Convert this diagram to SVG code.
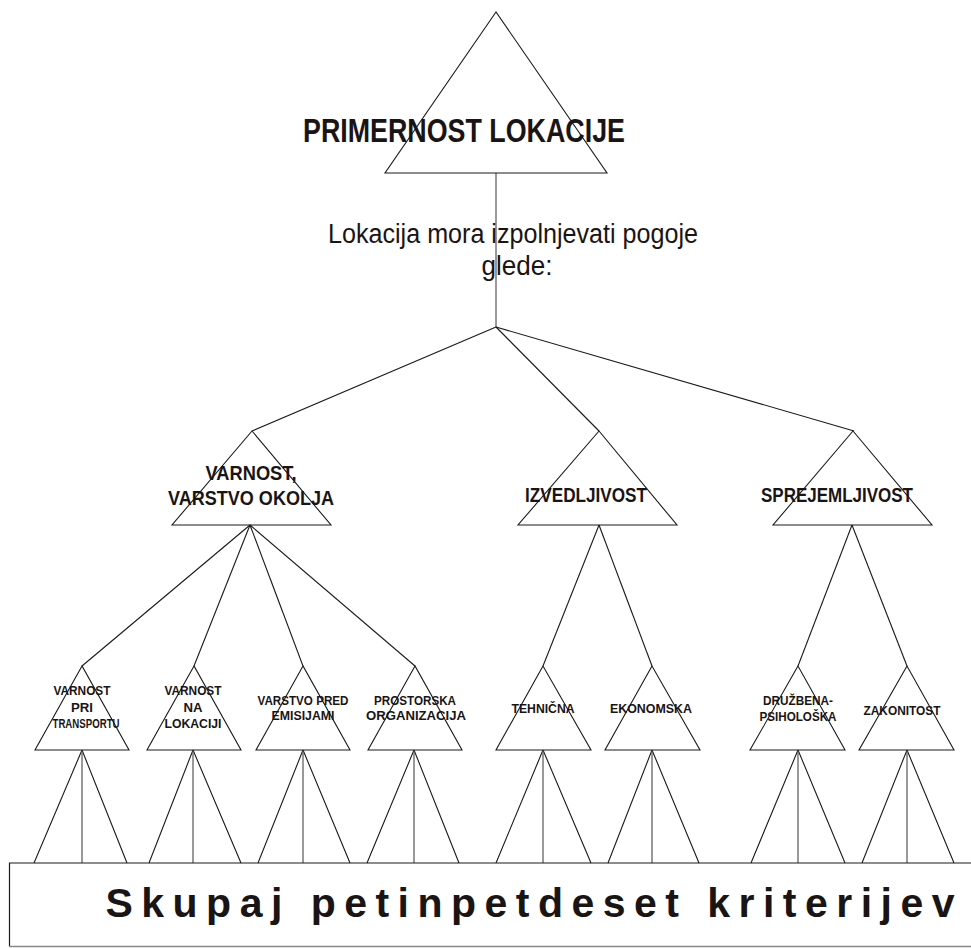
<svg xmlns="http://www.w3.org/2000/svg" width="971" height="948" viewBox="0 0 971 948">
<style>
.tri{fill:none;stroke:#1a1a1a;stroke-width:1.1}
.ln{stroke:#1a1a1a;stroke-width:1.1;fill:none}
.vl{stroke:#555;stroke-width:1.2;fill:none}
text{font-family:"Liberation Sans",Arial,sans-serif;fill:#1a1414;text-anchor:middle}
.b{font-weight:bold}
.l1{font-size:34px}
.l2{font-size:20px}
.l3{font-size:13.5px}
.m{font-size:27px}
.big{font-size:41px;font-weight:bold}
</style>
<rect width="971" height="948" fill="#fff"/>
<g id="connectors">
<line class="vl" x1="496" y1="173" x2="496" y2="327"/>
<line class="ln" x1="496" y1="327" x2="252" y2="431"/>
<line class="ln" x1="496" y1="327" x2="599" y2="431"/>
<line class="ln" x1="496" y1="327" x2="854" y2="431"/>
<line class="ln" x1="250" y1="525" x2="82" y2="666"/>
<line class="ln" x1="250" y1="525" x2="194" y2="666"/>
<line class="ln" x1="250" y1="525" x2="303" y2="666"/>
<line class="ln" x1="250" y1="525" x2="415" y2="666"/>
<line class="ln" x1="599" y1="525" x2="543" y2="666"/>
<line class="ln" x1="599" y1="525" x2="652" y2="666"/>
<line class="ln" x1="852" y1="525" x2="798" y2="666"/>
<line class="ln" x1="852" y1="525" x2="907" y2="666"/>
<g id="fans">
<path class="ln" d="M82,750 L34,863 M82,750 L127,863"/><path class="vl" d="M82,750 V863"/>
<path class="ln" d="M193,750 L149,863 M193,750 L241,863"/><path class="vl" d="M193,750 V863"/>
<path class="ln" d="M303,750 L258,863 M303,750 L350,863"/><path class="vl" d="M303,750 V863"/>
<path class="ln" d="M414,750 L367,863 M414,750 L459,863"/><path class="vl" d="M414,750 V863"/>
<path class="ln" d="M543,750 L496,863 M543,750 L591,863"/><path class="vl" d="M543,750 V863"/>
<path class="ln" d="M652,750 L608,863 M652,750 L699,863"/><path class="vl" d="M652,750 V863"/>
<path class="ln" d="M798,750 L751,863 M798,750 L845,863"/><path class="vl" d="M798,750 V863"/>
<path class="ln" d="M907,750 L862,863 M907,750 L954,863"/><path class="vl" d="M907,750 V863"/>
</g>
</g>
<g id="root">
<polygon class="tri" points="496,12 385,173 607,173"/>
<text class="b l1" x="464" y="142" textLength="322" lengthAdjust="spacingAndGlyphs">PRIMERNOST LOKACIJE</text>
</g>
<g id="condition">
<text class="m" x="513" y="243" textLength="370" lengthAdjust="spacingAndGlyphs">Lokacija mora izpolnjevati pogoje</text>
<text class="m" x="517" y="275" textLength="71" lengthAdjust="spacingAndGlyphs">glede:</text>
</g>
<g id="varnost">
<polygon class="tri" points="252,431 172,525 331,525"/>
<text class="b l2" x="251" y="480" textLength="91" lengthAdjust="spacingAndGlyphs">VARNOST,</text>
<text class="b l2" x="251" y="505" textLength="166" lengthAdjust="spacingAndGlyphs">VARSTVO OKOLJA</text>
</g>
<g id="izvedljivost">
<polygon class="tri" points="599,431 518,525 677,525"/>
<text class="b l2" x="586" y="502" textLength="122" lengthAdjust="spacingAndGlyphs">IZVEDLJIVOST</text>
</g>
<g id="sprejemljivost">
<polygon class="tri" points="853,431 773,525 932,525"/>
<text class="b l2" x="837" y="502" textLength="152" lengthAdjust="spacingAndGlyphs">SPREJEMLJIVOST</text>
</g>
<g id="transport">
<polygon class="tri" points="82,666 35,750 129,750"/>
<text class="b l3" x="82" y="695" textLength="57" lengthAdjust="spacingAndGlyphs">VARNOST</text>
<text class="b l3" x="82" y="711.5" textLength="22" lengthAdjust="spacingAndGlyphs">PRI</text>
<text class="b l3" x="86" y="727.5" textLength="67" lengthAdjust="spacingAndGlyphs">TRANSPORTU</text>
</g>
<g id="lokacija">
<polygon class="tri" points="194,666 147,750 241,750"/>
<text class="b l3" x="193" y="695" textLength="57" lengthAdjust="spacingAndGlyphs">VARNOST</text>
<text class="b l3" x="193" y="711.5" textLength="19" lengthAdjust="spacingAndGlyphs">NA</text>
<text class="b l3" x="193" y="727.5" textLength="57" lengthAdjust="spacingAndGlyphs">LOKACIJI</text>
</g>
<g id="emisije">
<polygon class="tri" points="303,666 256,750 350,750"/>
<text class="b l3" x="303" y="705" textLength="91" lengthAdjust="spacingAndGlyphs">VARSTVO PRED</text>
<text class="b l3" x="303" y="720" textLength="63" lengthAdjust="spacingAndGlyphs">EMISIJAMI</text>
</g>
<g id="prostorska">
<polygon class="tri" points="415,666 368,750 462,750"/>
<text class="b l3" x="415" y="705" textLength="82" lengthAdjust="spacingAndGlyphs">PROSTORSKA</text>
<text class="b l3" x="416" y="720" textLength="100" lengthAdjust="spacingAndGlyphs">ORGANIZACIJA</text>
</g>
<g id="tehnicna">
<polygon class="tri" points="543,666 496,750 591,750"/>
<text class="b l3" x="543" y="713" textLength="63" lengthAdjust="spacingAndGlyphs">TEHNIČNA</text>
</g>
<g id="ekonomska">
<polygon class="tri" points="652,666 605,750 700,750"/>
<text class="b l3" x="651" y="713" textLength="82" lengthAdjust="spacingAndGlyphs">EKONOMSKA</text>
</g>
<g id="druzbena">
<polygon class="tri" points="798,666 750,750 845,750"/>
<text class="b l3" x="798" y="705" textLength="70" lengthAdjust="spacingAndGlyphs">DRUŽBENA-</text>
<text class="b l3" x="798" y="721" textLength="77" lengthAdjust="spacingAndGlyphs">PSIHOLOŠKA</text>
</g>
<g id="zakonitost">
<polygon class="tri" points="907,666 859,750 954,750"/>
<text class="b l3" x="902" y="715" textLength="77" lengthAdjust="spacingAndGlyphs">ZAKONITOST</text>
</g>
<g id="kriteriji">
<path d="M975,863 H9.5 V946.5" fill="none" stroke="#1a1a1a" stroke-width="1.2"/>
<path d="M9.5,946.5 H975" fill="none" stroke="#888" stroke-width="1.5"/>
<text class="big" x="530" y="917" textLength="849" lengthAdjust="spacing">Skupaj petinpetdeset kriterijev</text>
</g>
</svg>
